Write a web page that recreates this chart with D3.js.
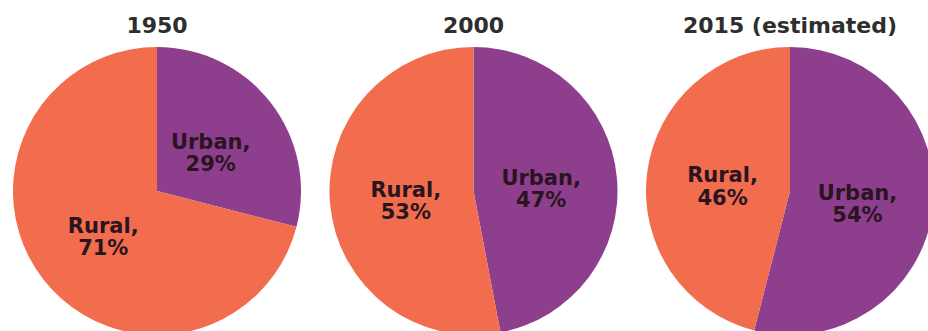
<!DOCTYPE html>
<html>
<head>
<meta charset="utf-8">
<script src="https://cdn.jsdelivr.net/npm/d3@7"></script>
<style>
  body { margin: 0; background: #fff; }
  .title { font-family: "DejaVu Sans", sans-serif; font-weight: bold; fill: #2e2e2e; }
  .label { font-family: "DejaVu Sans", sans-serif; font-weight: bold; fill: #2a1420; }
</style>
</head>
<body>
<svg id="chart" width="928" height="331"></svg>
<script>
// pie titles and shares (urban first, clockwise from 12 o'clock)
const years = ["1950", "2000", "2015 (estimated)"];
const categories = ["Urban", "Rural"];
const urbanShare = [29, 47, 54];
const ruralShare = [71, 53, 46];

const width = 928, height = 331;
const radius = 144;
const colors = { Urban: "#8d3f8d", Rural: "#f16d4d" };

const svg = d3.select("#chart");

// position of each pie along the row
let xPos = d3.scalePoint()
  .domain(years)
  .range([157, 790]);

let pie = d3.pie()
  .sort(null)
  .value(d => d.value);

let arc = d3.arc()
  .innerRadius(0)
  .outerRadius(radius);

// labels sit half way out
let labelArc = d3.arc()
  .innerRadius(68)
  .outerRadius(68);

years.forEach((year, i) => {
  let data = [
    { name: categories[0], value: urbanShare[i] },
    { name: categories[1], value: ruralShare[i] }
  ];

  let g = svg.append("g")
    .attr("transform", `translate(${xPos(year)}, 191)`);

  g.selectAll("path")
    .data(pie(data))
    .enter()
    .append("path")
    .attr("d", arc)
    .attr("fill", d => colors[d.data.name]);

  let labels = g.selectAll("text.label")
    .data(pie(data))
    .enter()
    .append("text")
    .classed("label", true)
    .attr("text-anchor", "middle")
    .style("font-size", "21px")
    .attr("transform", d => `translate(${labelArc.centroid(d)})`);

  labels.append("tspan")
    .attr("x", 0)
    .attr("dy", "0em")
    .text(d => `${d.data.name},`);

  labels.append("tspan")
    .attr("x", 0)
    .attr("dy", "1.05em")
    .text(d => `${d.data.value}%`);

  svg.append("text")
    .classed("title", true)
    .attr("x", xPos(year))
    .attr("y", 33)
    .attr("text-anchor", "middle")
    .style("font-size", "22px")
    .text(year);
});
</script>
</body>
</html>
